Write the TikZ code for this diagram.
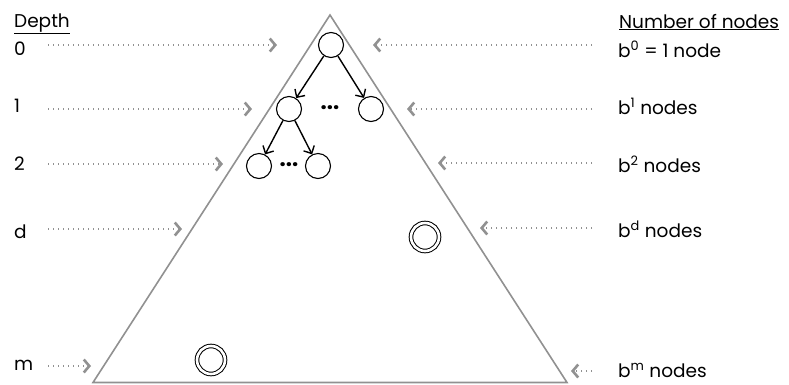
\documentclass[tikz,border=0pt]{standalone}
\usepackage{fontspec}
\setmainfont{Poppins}
\usetikzlibrary{arrows.meta}
\definecolor{lgray}{RGB}{145,145,145}
\tikzset{
  lbl/.style={anchor=base west, inner sep=0pt, font=\fontsize{18.5}{22}\selectfont},
  tnode/.style={circle, draw=black, line width=1.1pt, minimum size=25pt, inner sep=0pt},
  dnode/.style={circle, draw=black, line width=1pt, double, double distance=2.6pt, minimum size=28pt, inner sep=0pt},
  tedge/.style={black, line width=1.4pt, -{Straight Barb[length=6pt,width=12pt,line width=1.4pt]}},
  darrow/.style={lgray, line width=1.4pt, dash pattern=on 1.2pt off 3.8pt, -{Straight Barb[length=5.5pt,width=13pt,line width=2.6pt]}},
  dots/.style={inner sep=0pt, font=\fontsize{22}{24}\selectfont\bfseries}
}
\begin{document}
\begin{tikzpicture}[x=1pt,y=-1pt]
\useasboundingbox (0,0) rectangle (789,384);
% triangle
\coordinate (apex) at (330,15);
\coordinate (bl) at (93,382.5);
\coordinate (br) at (567,382.5);
\draw[lgray, line width=1.6pt] (bl) -- (apex) -- (br) -- cycle;
% headers
\node[lbl] (hdepth) at (14,27) {\underline{Depth}};
\node[lbl] (hnum) at (619,28) {\underline{Number of nodes}};
% depth labels
\node[lbl] (l0) at (14,55) {0};
\node[lbl] (l1) at (14,112) {1};
\node[lbl] (l2) at (14,170) {2};
\node[lbl] (ld) at (14,238) {d};
\node[lbl] (lm) at (14,370) {m};
% count labels
\node[lbl] (r0) at (618,57) {b\textsuperscript{0} = 1 node};
\node[lbl] (r1) at (618,114) {b\textsuperscript{1} nodes};
\node[lbl] (r2) at (618,172) {b\textsuperscript{2} nodes};
\node[lbl] (rd) at (618,237) {b\textsuperscript{d} nodes};
\node[lbl] (rm) at (618,377) {b\textsuperscript{m} nodes};
% tree
\node[tnode] (n0) at (331,45) {};
\node[tnode] (n1a) at (289,109) {};
\node[tnode] (n1b) at (371,109) {};
\node[dots] (e1) at (330,108) {...};
\node[dots] (e2) at (289,165) {...};
\node[tnode] (n2a) at (259,166) {};
\node[tnode] (n2b) at (318,166) {};
\node[dnode] (dd) at (425,237) {};
\node[dnode] (dm) at (211,360) {};
\draw[tedge] (n0) -- (n1a);
\draw[tedge] (n0) -- (n1b);
\draw[tedge] (n1a) -- (n2a);
\draw[tedge] (n1a) -- (n2b);
% left arrow coordinates
\coordinate (ls0) at (48,45);  \coordinate (le0) at (277,45);
\coordinate (ls1) at (48,109); \coordinate (le1) at (252,109);
\coordinate (ls2) at (48,164); \coordinate (le2) at (223,164);
\coordinate (lsd) at (48,229); \coordinate (led) at (182,229);
\coordinate (lsm) at (48,366); \coordinate (lem) at (91,366);
\draw[darrow] (ls0) -- (le0);
\draw[darrow] (ls1) -- (le1);
\draw[darrow] (ls2) -- (le2);
\draw[darrow] (lsd) -- (led);
\draw[darrow] (lsm) -- (lem);
% right arrow coordinates
\coordinate (rs0) at (592,45);  \coordinate (re0) at (373,45);
\coordinate (rs1) at (592,109); \coordinate (re1) at (407,109);
\coordinate (rs2) at (592,163); \coordinate (re2) at (438,163);
\coordinate (rsd) at (592,228); \coordinate (red) at (480,228);
\coordinate (rsm) at (592,371); \coordinate (rem) at (571,371);
\draw[darrow] (rs0) -- (re0);
\draw[darrow] (rs1) -- (re1);
\draw[darrow] (rs2) -- (re2);
\draw[darrow] (rsd) -- (red);
\draw[darrow] (rsm) -- (rem);
\end{tikzpicture}
\end{document}
